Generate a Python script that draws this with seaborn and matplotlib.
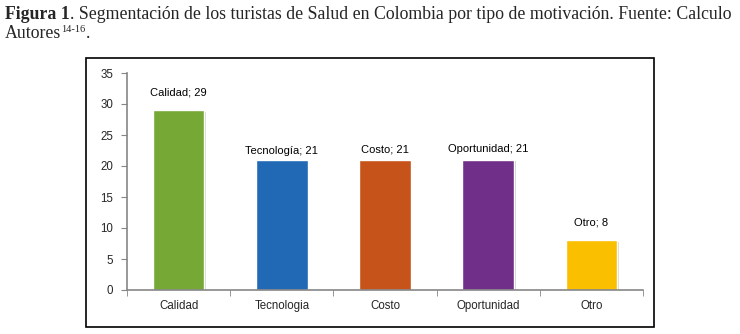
import seaborn as sns
from matplotlib import pyplot as plt
from matplotlib.patches import Rectangle
import matplotlib.patheffects as pe

# datos
categorias = ['Calidad', 'Tecnologia', 'Costo', 'Oportunidad', 'Otro']
etiquetas = ['Calidad', 'Tecnología', 'Costo', 'Oportunidad', 'Otro']
valores = [29, 21, 21, 21, 8]
colores = ['#76A836', '#2169B5', '#C6531A', '#70308A', '#FAC000']
y_ticks = [0, 5, 10, 15, 20, 25, 30, 35]

sns.set_style('white')
plt.rcParams['font.family'] = ['Liberation Sans', 'DejaVu Sans']

fig = plt.figure(figsize=(7.4, 3.34), dpi=100)
ax = fig.add_axes([127 / 740, 44 / 334, 516 / 740, 217 / 334])

sns.barplot(x=categorias, y=valores, hue=categorias, palette=colores,
            width=0.5, legend=False, saturation=1, ax=ax)
for p in ax.patches:
    p.set_path_effects([pe.SimplePatchShadow(offset=(1.2, -1.2), alpha=0.2),
                        pe.Normal()])

# etiquetas de datos
desplaz = [9, 3, 4, 4, 9]
for i, (e, v) in enumerate(zip(etiquetas, valores)):
    ax.annotate(f'{e}; {v}', (i, v), xytext=(0, desplaz[i]),
                textcoords='offset points', ha='center', va='bottom',
                fontsize=8, color='black')

ax.set_ylim(0, 35)
ax.set_xlim(-0.5, len(categorias) - 0.5)
ax.set_yticks(y_ticks)
ax.set_xticks(range(len(categorias)))
ax.set_xticklabels(categorias)
ax.set_xticks([i - 0.5 for i in range(len(categorias) + 1)], minor=True)
ax.tick_params(axis='x', which='major', length=0, pad=7, labelsize=8.3)
ax.tick_params(axis='x', which='minor', length=4, color='#868686', bottom=True)
ax.tick_params(axis='y', length=4, color='#868686', left=True, pad=6, labelsize=8.3)
for s in ['top', 'right']:
    ax.spines[s].set_visible(False)
for s in ['left', 'bottom']:
    ax.spines[s].set_color('#868686')
    ax.spines[s].set_linewidth(1.2)
ax.set_xlabel('')
ax.set_ylabel('')

# marco
fig.patches.append(Rectangle((86 / 740, 7 / 334), 568 / 740, 269 / 334,
                             transform=fig.transFigure, fill=False,
                             edgecolor='black', linewidth=1.2))

# titulo
serif = ['Liberation Serif', 'DejaVu Serif']
tam = 12.8
fig.canvas.draw()
r = fig.canvas.get_renderer()
t1 = fig.text(5 / 740, 1 - 19 / 334, 'Figura 1', fontsize=tam, family=serif,
              weight='bold', va='baseline')
bb = t1.get_window_extent(r)
fig.text(bb.x1 / 740, 1 - 19 / 334,
         '. Segmentación de los turistas de Salud en Colombia por tipo de motivación. Fuente: Calculo',
         fontsize=tam, family=serif, va='baseline')
t3 = fig.text(5 / 740, 1 - 38 / 334, 'Autores', fontsize=tam, family=serif,
              va='baseline')
bb = t3.get_window_extent(r)
t4 = fig.text(bb.x1 / 740, 1 - 32 / 334, '14-16', fontsize=7.5, family=serif,
              va='baseline')
bb = t4.get_window_extent(r)
fig.text(bb.x1 / 740, 1 - 38 / 334, '.', fontsize=tam, family=serif,
         va='baseline')

fig.savefig('out.png', dpi=100)
